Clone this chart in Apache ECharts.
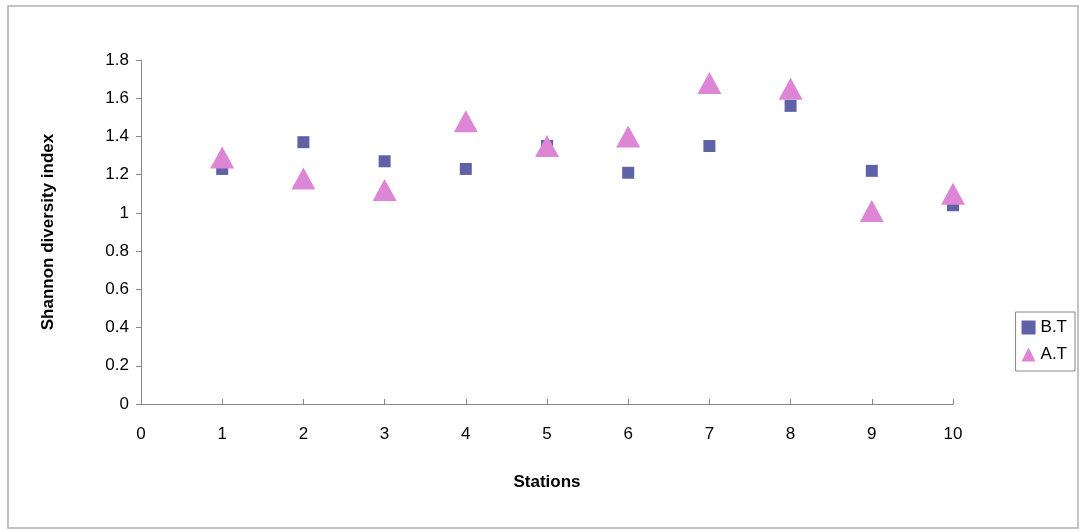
<!DOCTYPE html>
<html>
<head>
<meta charset="utf-8">
<script src="https://cdn.jsdelivr.net/npm/echarts@6/dist/echarts.min.js"></script>
<style>
html,body{margin:0;padding:0;background:#fff;}
#main{width:1081px;height:532px;}
</style>
</head>
<body>
<div id="main"></div>
<script>
var stations = [1, 2, 3, 4, 5, 6, 7, 8, 9, 10];
var bt = [1.23, 1.37, 1.27, 1.23, 1.35, 1.21, 1.35, 1.56, 1.22, 1.04];
var at = [1.29, 1.18, 1.12, 1.48, 1.35, 1.40, 1.68, 1.65, 1.01, 1.10];
var seriesNames = ['B.T', 'A.T'];
var xAxisName = 'Stations';
var yAxisName = 'Shannon diversity index';

function pairs(xs, ys) { return xs.map(function (x, i) { return [x, ys[i]]; }); }

var chart = echarts.init(document.getElementById('main'));
var font = 'Liberation Sans, Arial, sans-serif';
chart.setOption({
  animation: false,
  backgroundColor: '#fff',
  graphic: [{
    type: 'rect',
    shape: { x: 8, y: 6, width: 1070, height: 522 },
    style: { fill: 'none', stroke: '#b0b0b0', lineWidth: 1.5 },
    silent: true
  }],
  grid: { left: 141, right: 128, top: 60, bottom: 128 },
  legend: {
    orient: 'vertical',
    right: 6, top: 312,
    itemWidth: 14, itemHeight: 14, itemGap: 10,
    padding: [7, 8, 8, 6],
    borderColor: '#888', borderWidth: 1,
    textStyle: { fontFamily: font, fontSize: 17, color: '#000' },
    data: [
      { name: seriesNames[0], icon: 'rect' },
      { name: seriesNames[1], icon: 'triangle' }
    ]
  },
  xAxis: {
    type: 'value', min: 0, max: 10, interval: 1,
    name: xAxisName, nameLocation: 'middle', nameGap: 70,
    nameTextStyle: { fontFamily: font, fontSize: 17, fontWeight: 'bold', color: '#000' },
    axisLine: { lineStyle: { color: '#888' } },
    axisTick: { show: true, inside: true, length: 5, lineStyle: { color: '#888' } },
    axisLabel: { fontFamily: font, fontSize: 17, color: '#000', margin: 22 },
    splitLine: { show: false }
  },
  yAxis: {
    type: 'value', min: 0, max: 1.8, interval: 0.2,
    name: yAxisName, nameLocation: 'middle', nameGap: 84,
    nameTextStyle: { fontFamily: font, fontSize: 17, fontWeight: 'bold', color: '#000' },
    axisLine: { show: true, lineStyle: { color: '#888' } },
    axisTick: { show: true, length: 5, lineStyle: { color: '#888' } },
    axisLabel: {
      fontFamily: font, fontSize: 17, color: '#000', margin: 12,
      formatter: function (v) { return String(Math.round(v * 10) / 10); }
    },
    splitLine: { show: false }
  },
  series: [
    {
      name: seriesNames[0], type: 'scatter', symbol: 'rect', symbolSize: 12,
      itemStyle: { color: '#6062a8', opacity: 1 },
      data: pairs(stations, bt), z: 2
    },
    {
      name: seriesNames[1], type: 'scatter', symbol: 'triangle', symbolSize: [24, 22],
      itemStyle: { color: '#de86d6', opacity: 1 },
      data: pairs(stations, at), z: 3
    }
  ]
});
</script>
</body>
</html>
